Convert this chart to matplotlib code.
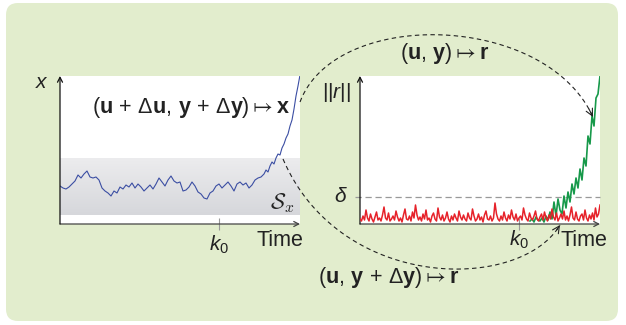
import numpy as np
import matplotlib.pyplot as plt
from matplotlib.colors import LinearSegmentedColormap
from matplotlib.patches import FancyBboxPatch

plt.rcParams['font.family'] = ['Liberation Sans', 'DejaVu Sans']
plt.rcParams['mathtext.fontset'] = 'custom'
plt.rcParams['mathtext.rm'] = 'Liberation Sans'
plt.rcParams['mathtext.it'] = 'Liberation Sans:italic'
plt.rcParams['mathtext.bf'] = 'Liberation Sans:bold'

# left panel: state x over time (pixel-like units, 240 wide x 148 high)
blue_t = list(range(0, 205, 3)) + [206, 208, 210, 212, 214, 216, 218, 220, 222, 224,
                                    226, 228, 230, 232, 234, 236, 238, 240]
blue_x = [38, 36, 35, 37, 40, 43, 49, 46, 50, 53, 47, 46, 47, 44, 36, 33, 31, 28, 33, 31,
          37, 35, 39, 37, 41, 36, 40, 37, 33, 36, 39, 35, 40, 46, 42, 38, 44, 48, 43, 41,
          42, 33, 34, 37, 42, 38, 32, 30, 26, 25, 31, 33, 38, 40, 36, 39, 42, 38, 33, 40,
          42, 39, 41, 36, 39, 44, 46, 47, 50,
          54, 52, 58, 62, 60, 66, 70, 69, 76, 80, 86, 90, 98, 104, 115, 128, 138, 149]
band_lo, band_hi = 9, 65

# right panel: residual norm
red = [5, 3, 8, 4, 14, 6, 3, 10, 5, 2, 7, 12, 4, 6, 3, 9, 17, 6, 4, 11, 3, 5, 8, 4, 13,
       7, 3, 6, 2, 9, 15, 5, 4, 8, 3, 12, 6, 19, 9, 4, 7, 3, 10, 5, 14, 4, 6, 2, 8, 11,
       5, 3, 16, 7, 4, 9, 3, 6, 12, 5, 2, 8, 4, 10, 6, 3, 13, 7, 4, 9, 5, 3, 11, 6, 4,
       15, 8, 3, 5, 10, 4, 7, 2, 9, 13, 5, 4, 8, 3, 6, 21, 10, 5, 3, 8, 4, 12, 6, 3, 9,
       5, 14, 7, 4, 10, 3, 6, 8, 4, 16, 9, 5, 3, 11, 6, 4, 8, 13, 5, 3, 7, 10, 4, 12, 6,
       3, 9, 5, 15, 7, 4, 11, 3, 6, 10, 5, 13, 4, 8, 3, 9, 17, 6, 4, 12, 5, 3, 8, 10, 4,
       14, 6, 3, 9, 5, 11, 4, 16, 7, 10, 19]
red_t = np.linspace(0, 240, len(red))
green_t = list(range(170, 241, 2))
green = [3, 5, 2, 7, 4, 3, 6, 2, 8, 4, 12, 5, 22, 8, 25, 14, 10, 28, 16, 32,
         22, 40, 30, 46, 36, 55, 44, 66, 58, 88, 80, 108, 98, 126, 130, 148]
delta = 27
k0 = 159

W, H = 626, 325
fig = plt.figure(figsize=(W / 100, H / 100), dpi=100)

bg = fig.add_axes([0, 0, 1, 1], zorder=0)
bg.set_xlim(0, W)
bg.set_ylim(H, 0)
bg.axis('off')
bg.add_patch(FancyBboxPatch((6, 3), 612, 318, boxstyle='round,pad=0,rounding_size=12',
                            fc='#e2edcd', ec='none'))


def make_panel(left):
    ax = fig.add_axes([left / W, (H - 224) / H, 240 / W, 148 / H], zorder=1)
    ax.set_xlim(0, 240)
    ax.set_ylim(0, 148)
    for s in ax.spines.values():
        s.set_visible(False)
    ax.set_yticks([])
    ax.set_xticks([k0])
    ax.set_xticklabels([''])
    ax.tick_params(axis='x', direction='inout', length=8, color='#999999', width=0.8)
    ax.annotate('', xy=(1, 0), xytext=(0, 0), xycoords='axes fraction',
                arrowprops=dict(arrowstyle='->,head_length=0.35,head_width=0.18', lw=0.9,
                                color='#444444', shrinkA=0, shrinkB=0))
    ax.annotate('', xy=(0, 1), xytext=(0, 0), xycoords='axes fraction',
                arrowprops=dict(arrowstyle='->,head_length=0.35,head_width=0.18', lw=0.9,
                                color='#111111', shrinkA=0, shrinkB=0))
    return ax


ax1 = make_panel(60)
grad = np.linspace(0, 1, 100).reshape(-1, 1)
ax1.imshow(grad, extent=(0, 240, band_lo, band_hi),
           cmap=LinearSegmentedColormap.from_list('g', ['#d6d7db', '#ececee']),
           aspect='auto', origin='lower', zorder=0)
ax1.plot(blue_t, blue_x, color='#3b4ea3', lw=0.8, zorder=2)

ax2 = make_panel(360)
ax2.axhline(delta, xmin=-0.02, color='#999999', lw=0.9, ls=(0, (5, 3)), clip_on=False)
ax2.plot(green_t, green, color='#17994a', lw=1.2, zorder=2)
ax2.plot(red_t, red, color='#e6222a', lw=1.1, zorder=3)

ov = fig.add_axes([0, 0, 1, 1], zorder=5)
ov.set_xlim(0, W)
ov.set_ylim(H, 0)
ov.axis('off')
ov.patch.set_alpha(0)


def bezier(p0, p1, p2, p3, n=200):
    t = np.linspace(0, 1, n)[:, None]
    p0, p1, p2, p3 = map(np.array, (p0, p1, p2, p3))
    return (1 - t) ** 3 * p0 + 3 * (1 - t) ** 2 * t * p1 + 3 * (1 - t) * t ** 2 * p2 + t ** 3 * p3


for pts in [((300, 102), (335, 8), (545, 12), (593, 117)),
            ((283, 159), (340, 292), (520, 292), (560, 225))]:
    c = bezier(*pts)
    ov.plot(c[:, 0], c[:, 1], color='#222222', lw=0.8, ls=(0, (4, 3)))
    ov.annotate('', xy=c[-1], xytext=c[-6],
                arrowprops=dict(arrowstyle='->,head_length=0.5,head_width=0.25', lw=0.8,
                                color='#222222', shrinkA=0, shrinkB=0))

txt = dict(ha='center', va='center', color='#222222')
ov.text(191, 108, r'$(\mathbf{u}\,+\,\Delta\mathbf{u},\,\mathbf{y}\,+\,\Delta\mathbf{y})\mapsto\mathbf{x}$',
        fontsize=15.5, **txt)
ov.text(445, 53, r'$(\mathbf{u},\,\mathbf{y})\mapsto\mathbf{r}$', fontsize=15.5, **txt)
ov.text(389, 278, r'$(\mathbf{u},\,\mathbf{y}\,+\,\Delta\mathbf{y})\mapsto\mathbf{r}$',
        fontsize=15.5, **txt)
ov.text(42, 83, r'$x$', fontsize=15, **txt)
ov.text(336, 93, r'$||r||$', fontsize=15, **txt)
ov.text(341, 197, r'$\delta$', fontsize=15, **txt)
ov.text(282, 203, r'$\mathcal{S}_x$', fontsize=16, math_fontfamily='cm', **txt)
ov.text(219, 245, r'$k_0$', fontsize=15, **txt)
ov.text(519, 240, r'$k_0$', fontsize=15, **txt)
ov.text(280, 241, 'Time', fontsize=15.5, **txt)
ov.text(584, 241, 'Time', fontsize=15.5, **txt)

fig.savefig('out.png', dpi=100)
